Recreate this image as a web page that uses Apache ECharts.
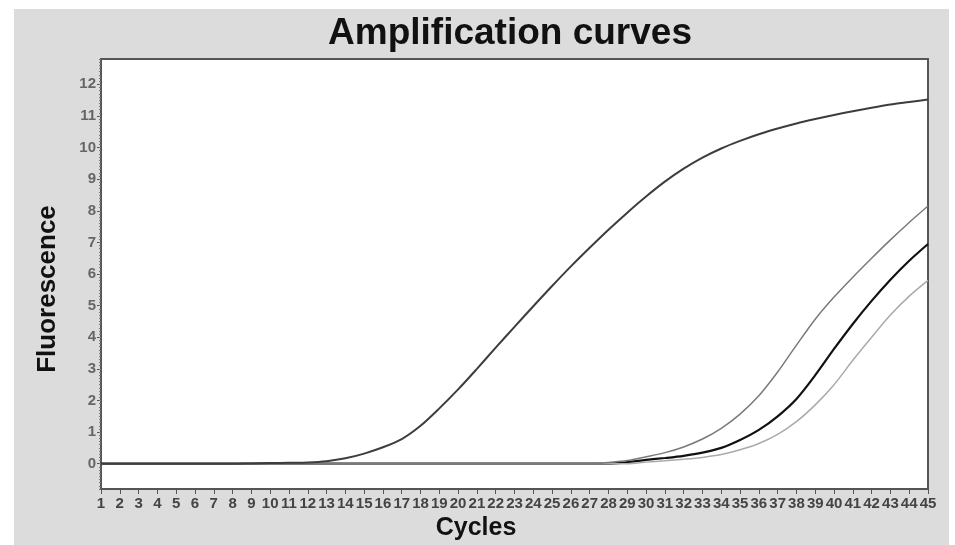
<!DOCTYPE html>
<html>
<head>
<meta charset="utf-8">
<script src="https://cdn.jsdelivr.net/npm/echarts@6/dist/echarts.min.js"></script>
<style>
    body { margin: 0; background: #ffffff; }
    #bg { position: absolute; left: 14px; top: 9px; width: 935px; height: 536px; background: #dcdcdc; }
    #chart { position: absolute; left: 0; top: 0; width: 955px; height: 545px; }
</style>
</head>
<body>
<div id="bg"></div>
<div id="chart"></div>
<script>
    // cycle numbers on the x axis
    var cycles = [1, 2, 3, 4, 5, 6, 7, 8, 9, 10, 11, 12, 13, 14, 15, 16, 17, 18, 19, 20, 21, 22, 23,
        24, 25, 26, 27, 28, 29, 30, 31, 32, 33, 34, 35, 36, 37, 38, 39, 40, 41, 42, 43, 44, 45];
    var yTicks = [0, 1, 2, 3, 4, 5, 6, 7, 8, 9, 10, 11, 12];

    // fluorescence, one value per cycle
    var sampleA = [0, 0, 0, 0, 0, 0, 0, 0, 0.01, 0.02, 0.03, 0.04, 0.08, 0.17, 0.32, 0.52, 0.78, 1.2,
        1.75, 2.35, 3.0, 3.67, 4.33, 4.98, 5.62, 6.24, 6.83, 7.4, 7.94, 8.45, 8.92, 9.33, 9.68, 9.97,
        10.21, 10.42, 10.6, 10.76, 10.9, 11.03, 11.15, 11.26, 11.36, 11.44, 11.52];
    var sampleB = [0, 0, 0, 0, 0, 0, 0, 0, 0, 0, 0, 0, 0, 0, 0, 0, 0, 0, 0, 0, 0, 0, 0, 0, 0, 0, 0,
        0.04, 0.1, 0.22, 0.35, 0.53, 0.78, 1.12, 1.57, 2.15, 2.9, 3.75, 4.57, 5.27, 5.9, 6.5, 7.08,
        7.63, 8.15];
    var sampleC = [0, 0, 0, 0, 0, 0, 0, 0, 0, 0, 0, 0, 0, 0, 0, 0, 0, 0, 0, 0, 0, 0, 0, 0, 0, 0, 0,
        0, 0.05, 0.12, 0.18, 0.25, 0.35, 0.5, 0.75, 1.07, 1.5, 2.05, 2.8, 3.63, 4.42, 5.15, 5.82,
        6.42, 6.95];
    var sampleD = [0, 0, 0, 0, 0, 0, 0, 0, 0, 0, 0, 0, 0, 0, 0, 0, 0, 0, 0, 0, 0, 0, 0, 0, 0, 0, 0,
        0, 0, 0.05, 0.09, 0.14, 0.2, 0.29, 0.44, 0.64, 0.93, 1.33, 1.86, 2.5, 3.27, 4.0, 4.7, 5.3, 5.8];

    function pairs(vals) {
        return cycles.map(function (c, i) { return [c, vals[i]]; });
    }

    // small ticks along the y axis, every 0.1
    var minorTicks = [];
    for (var t = -8; t <= 128; t++) minorTicks.push(t / 10);

    function curve(name, vals, color, width) {
        return {
            name: name,
            type: 'line',
            data: pairs(vals),
            smooth: 0.3,
            symbol: 'none',
            lineStyle: { color: color, width: width }
        };
    }

    var chart = echarts.init(document.getElementById('chart'));
    chart.setOption({
        backgroundColor: 'transparent',
        animation: false,
        title: {
            text: 'Amplification curves',
            left: 505,
            top: 10,
            textAlign: 'center',
            textStyle: {
                fontFamily: 'Liberation Sans, Arial, sans-serif',
                fontSize: 37,
                fontWeight: 'bold',
                color: '#111'
            }
        },
        grid: {
            left: 101,
            top: 59,
            right: 27,
            bottom: 56,
            show: true,
            backgroundColor: '#ffffff',
            borderColor: '#555',
            borderWidth: 2
        },
        xAxis: {
            type: 'value',
            min: 1,
            max: 45,
            interval: 1,
            axisLine: { show: true, onZero: false, lineStyle: { color: '#555', width: 2 } },
            axisTick: { show: true, length: 5, lineStyle: { color: '#555', width: 1 } },
            axisLabel: {
                margin: 7,
                fontFamily: 'Liberation Sans, Arial, sans-serif',
                fontSize: 15,
                fontWeight: 'bold',
                color: '#444'
            },
            splitLine: { show: false }
        },
        yAxis: [{
            type: 'value',
            min: -0.8,
            max: 12.8,
            axisLine: { show: true, onZero: false, lineStyle: { color: '#555', width: 2 } },
            axisTick: { show: true, length: 4, customValues: yTicks, lineStyle: { color: '#555' } },
            axisLabel: {
                customValues: yTicks,
                margin: 5,
                fontFamily: 'Liberation Sans, Arial, sans-serif',
                fontSize: 15,
                fontWeight: 'bold',
                color: '#666'
            },
            splitLine: { show: false }
        }, {
            type: 'value',
            position: 'left',
            min: -0.8,
            max: 12.8,
            axisLine: { show: false, onZero: false },
            axisTick: { show: true, length: 2, customValues: minorTicks, lineStyle: { color: '#777' } },
            axisLabel: { show: false },
            splitLine: { show: false }
        }],
        graphic: [{
            type: 'text',
            x: 48,
            y: 289,
            rotation: Math.PI / 2,
            style: {
                text: 'Fluorescence',
                font: 'bold 26px "Liberation Sans", Arial, sans-serif',
                fill: '#111',
                align: 'center',
                verticalAlign: 'middle'
            }
        }, {
            type: 'text',
            x: 476,
            y: 528,
            style: {
                text: 'Cycles',
                font: 'bold 25px "Liberation Sans", Arial, sans-serif',
                fill: '#111',
                align: 'center',
                verticalAlign: 'middle'
            }
        }],
        series: [
            curve('C', sampleC, '#111111', 2.2),
            curve('D', sampleD, '#aaaaaa', 1.5),
            curve('B', sampleB, '#7a7a7a', 1.5),
            curve('A', sampleA, '#3d3d3d', 2)
        ]
    });
</script>
</body>
</html>
